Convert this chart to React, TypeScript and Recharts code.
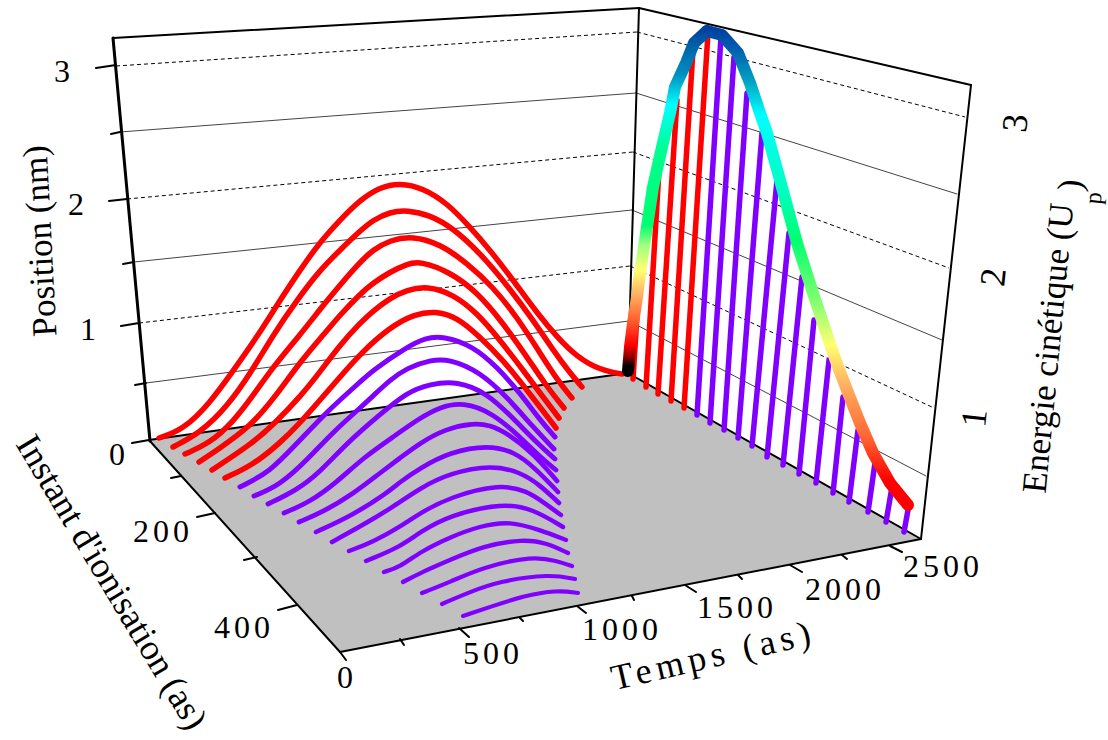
import { ComposedChart, Line, Area, XAxis, YAxis, ReferenceDot } from 'recharts';

type Pt = number[];

const red1: Pt[] = [[159,438],[183,430],[210,403],[233,371],[257,337],[277,305],[300,270],[320,242],[340,220],[360,200],[380,187],[400,183],[423,188],[447,203],[470,227],[490,250],[513,280],[537,313],[557,337],[577,357],[600,370],[622,374]];
const red2: Pt[] = [[173,447],[200,433],[227,407],[252,371],[273,335],[297,300],[320,270],[340,250],[360,231],[373,220],[390,212],[407,210],[430,215],[453,228],[480,253],[507,285],[533,320],[553,350],[570,373],[582,387]];
const red3: Pt[] = [[185,454],[210,443],[233,422],[252,397],[273,367],[300,335],[325,303],[340,285],[360,262],[373,250],[390,240],[413,236],[440,244],[467,263],[493,287],[517,317],[540,353],[558,381],[572,398]];
const red4: Pt[] = [[199,462],[217,450],[250,427],[275,397],[300,362],[325,333],[340,315],[360,294],[373,283],[390,272],[407,264],[420,261],[450,272],[477,292],[503,323],[527,357],[547,387],[564,408]];
const red5: Pt[] = [[212,470],[253,443],[275,423],[300,397],[320,372],[340,345],[360,323],[373,311],[390,298],[407,290],[427,286],[453,294],[477,313],[500,340],[523,370],[543,397],[559,418]];
const red6: Pt[] = [[225,478],[253,465],[280,443],[300,423],[320,400],[340,377],[360,354],[390,327],[415,314],[435,311],[457,317],[480,337],[503,360],[527,390],[556,428]];

const purple1: Pt[] = [[240,487],[270,472],[297,443],[327,412],[340,400],[360,382],[373,370],[407,347],[425,338],[443,336],[473,346],[497,367],[520,393],[540,420],[555,437]];
const purple2: Pt[] = [[254,496],[280,485],[307,460],[333,432],[360,408],[373,396],[390,380],[407,368],[430,360],[450,359],[480,372],[507,397],[533,427],[554,449]];
const purple3: Pt[] = [[268,504],[297,490],[320,472],[347,443],[377,417],[407,392],[430,384],[457,381],[487,393],[513,418],[537,443],[555,459]];
const purple4: Pt[] = [[284,513],[310,502],[337,482],[363,458],[393,437],[420,418],[440,407],[463,402],[493,413],[520,437],[540,457],[556,470]];
const purple5: Pt[] = [[299,522],[323,512],[353,494],[380,473],[400,458],[420,443],[445,429],[473,423],[490,425],[507,433],[533,453],[557,481]];
const purple6: Pt[] = [[316,532],[353,515],[387,493],[400,482],[420,468],[450,452],[488,445],[515,452],[535,468],[558,492]];
const purple7: Pt[] = [[332,542],[363,525],[393,507],[420,488],[450,473],[492,465],[520,472],[540,485],[559,503]];
const purple8: Pt[] = [[349,551],[373,542],[403,525],[420,513],[450,497],[500,484],[527,491],[543,502],[561,515]];
const purple9: Pt[] = [[366,561],[400,547],[420,532],[450,515],[503,503],[533,509],[563,527]];
const purple10: Pt[] = [[384,572],[400,567],[420,552],[450,537],[480,526],[510,521],[540,530],[566,540]];
const purple11: Pt[] = [[403,582],[420,573],[450,560],[483,546],[523,539],[547,543],[568,553]];
const purple12: Pt[] = [[422,593],[450,582],[483,567],[533,556],[557,561],[572,566]];
const purple13: Pt[] = [[442,604],[467,593],[500,581],[550,574],[575,579]];
const purple14: Pt[] = [[463,616],[490,607],[523,596],[557,590],[578,593]];

const redCurves = [red1, red2, red3, red4, red5, red6];
const purpleCurves = [purple1, purple2, purple3, purple4, purple5, purple6, purple7, purple8, purple9, purple10, purple11, purple12, purple13, purple14];

// energy stems on the right wall: floor end, then energy end
const redStems: Pt[][] = [[[633,379],[638,300]],[[646,387],[659,170]],[[658,394],[677,100]],[[671,401],[693,50]],[[684,408],[708,33]]];
const purpleStems: Pt[][] = [[[697,415],[721,37]],[[710,423],[734,57]],[[724,430],[747,93]],[[738,438],[762,133]],[[752,446],[777,180]],[[767,457],[789,233]],[[783,465],[802,277]],[[799,474],[814,320]],[[816,483],[829,360]],[[833,493],[843,397]],[[849,502],[858,430]],[[868,512],[875,463]],[[886,522],[892,487]],[[904,532],[908,510]]];

const energyRise: Pt[] = [[628,371],[630,347],[633,323],[637,297],[640,273],[645,240],[650,207],[653,187],[662,147],[670,113],[675,87],[686,63],[694,43],[707,31]];
const energyFall: Pt[] = [[707,31],[722,35],[738,53],[750,83],[760,113],[767,133],[780,180],[797,243],[813,293],[827,335],[837,364],[847,390],[860,423],[873,453],[890,483],[908,505]];

const riseStops: [number, string][] = [[28,'#003f9f'],[45,'#0060a8'],[75,'#0090c0'],[105,'#00ffff'],[150,'#00ff90'],[225,'#00ff70'],[245,'#a0ff80'],[270,'#ffff70'],[295,'#ffb060'],[320,'#ff6030'],[345,'#ff0000'],[358,'#800000'],[366,'#000000']];
const fallStops: [number, string][] = [[28,'#003f9f'],[50,'#0060b0'],[80,'#00a0c0'],[115,'#00ffff'],[190,'#00ffc0'],[240,'#00ff70'],[300,'#80ff70'],[345,'#ffff70'],[385,'#ffb060'],[440,'#ff6030'],[480,'#ff0000'],[510,'#ff0000']];

const floorX = [149, 340, 628, 921];
const floorBack = [440, 413, 373, 539];
const floorFront = [440, 652, 596, 539];

const frameEdges: Pt[][] = [[[113,38],[639,8]],[[639,8],[971,85]],[[639,8],[628,373]],[[971,85],[921,539]],[[149,440],[628,373]],[[628,373],[921,539]],[[149,440],[340,652]],[[340,652],[921,539]]];
const leftEdge: Pt[] = [[113,38],[150,441]];

const wallBack = [[637,32],[636,93],[633,152],[632,210],[630,266],[629,321]];
const wallLeft = [[116,66],[120,132],[127,199],[134,262],[139,323],[146,383]];
const wallRight = [[965,117],[957,194],[949,268],[942,340],[934,408],[926,476]];

const tickSegments: Pt[][] = [
  [[96,68],[116,65]],[[111,134],[120,132]],[[109,201],[127,199]],[[123,264],[134,262]],[[121,326],[139,323]],[[135,385],[146,383]],[[132,443],[149,440]],
  [[171,478],[181,476]],[[197,517],[215,513]],[[244,560],[257,557]],[[278,610],[297,605]],
  [[340,652],[346,660]],[[400,639],[404,645]],[[459,628],[469,637]],[[520,618],[523,621]],[[577,606],[586,613]],[[632,596],[634,600]],[[685,585],[696,592]],[[738,575],[742,579]],[[790,565],[802,572]],[[842,555],[847,559]],[[890,546],[902,552]],
];

type Label = { x: number; y: number; text: string; size: number; spacing?: number; angle?: number };
const labels: Label[] = [
  { x: 62, y: 82, text: '3', size: 32 },
  { x: 76, y: 215, text: '2', size: 32 },
  { x: 88, y: 340, text: '1', size: 32 },
  { x: 117, y: 465, text: '0', size: 32 },
  { x: 163, y: 542, text: '200', size: 32, spacing: 4 },
  { x: 244, y: 638, text: '400', size: 32, spacing: 4 },
  { x: 345, y: 688, text: '0', size: 32 },
  { x: 493, y: 664, text: '500', size: 32, spacing: 4 },
  { x: 622, y: 640, text: '1000', size: 32, spacing: 4 },
  { x: 737, y: 618, text: '1500', size: 32, spacing: 4 },
  { x: 845, y: 600, text: '2000', size: 32, spacing: 4 },
  { x: 943, y: 577, text: '2500', size: 32, spacing: 4 },
  { x: 1015, y: 123, text: '3', size: 36, angle: -84 },
  { x: 993, y: 277, text: '2', size: 36, angle: -84 },
  { x: 974, y: 418, text: '1', size: 36, angle: -84 },
  { x: 40, y: 241, text: 'Position (nm)', size: 35, angle: -93 },
  { x: 713, y: 655, text: 'Temps (as)', size: 36, spacing: 5, angle: -13 },
  { x: 112, y: 582, text: "Instant d'ionisation (as)", size: 36, angle: 59 },
  { x: 1048, y: 348, text: 'Energie cinétique (U', size: 35, angle: -84.5 },
  { x: 1070, y: 185, text: ')', size: 35, angle: -84.5 },
  { x: 1093, y: 198, text: 'p', size: 24, angle: -84.5 },
];

const rows = (pts: number[][]) => pts.map(([x, y]) => ({ x, y }));
const floorRows = floorX.map((x, i) => ({ x, band: [floorBack[i], floorFront[i]] }));

function Plain({ pts, color, width, dash, type = 'linear' }: { pts: number[][]; color: string; width: number; dash?: string; type?: 'linear' | 'basis' }) {
  return (
    <Line
      data={rows(pts)}
      dataKey="y"
      type={type}
      stroke={color}
      strokeWidth={width}
      strokeDasharray={dash}
      strokeLinecap={dash ? 'butt' : 'round'}
      strokeLinejoin="round"
      dot={false}
      activeDot={false}
      legendType="none"
      isAnimationActive={false}
    />
  );
}

export default function App() {
  const walls = wallBack.flatMap((b, i) => [
    { pts: [wallLeft[i], b], dashed: i % 2 === 0 },
    { pts: [b, wallRight[i]], dashed: i % 2 === 0 },
  ]);
  return (
    <div style={{ position: 'absolute', left: 0, top: 0, width: 1108, height: 740, background: '#fff' }}>
      <ComposedChart width={1108} height={740} margin={{ top: 0, right: 0, bottom: 0, left: 0 }}>
        <defs>
          <linearGradient id="rise" gradientUnits="userSpaceOnUse" x1="0" y1="28" x2="0" y2="371">
            {riseStops.map(([y, c]) => <stop key={y} offset={(y - 28) / 343} stopColor={c} />)}
          </linearGradient>
          <linearGradient id="fall" gradientUnits="userSpaceOnUse" x1="0" y1="28" x2="0" y2="510">
            {fallStops.map(([y, c]) => <stop key={y} offset={(y - 28) / 482} stopColor={c} />)}
          </linearGradient>
        </defs>
        <XAxis hide type="number" dataKey="x" domain={[0, 1108]} allowDataOverflow />
        <YAxis hide type="number" domain={[0, 740]} reversed allowDataOverflow />
        <Area data={floorRows} dataKey="band" type="linear" stroke="none" fill="#c0c0c0" fillOpacity={1} dot={false} activeDot={false} legendType="none" isAnimationActive={false} />
        {walls.map((w, i) => (
          <Plain key={`wall${i}`} pts={w.pts} color={w.dashed ? '#000' : '#444'} width={1} dash={w.dashed ? '4 3' : undefined} />
        ))}
        {frameEdges.map((e, i) => <Plain key={`edge${i}`} pts={e} color="#000" width={2} />)}
        <Plain pts={leftEdge} color="#000" width={3} />
        {tickSegments.map((t, i) => <Plain key={`tick${i}`} pts={t} color="#000" width={2} />)}
        {redStems.map((s, i) => <Plain key={`rs${i}`} pts={s} color="#ff0000" width={5.5} />)}
        {purpleStems.map((s, i) => <Plain key={`ps${i}`} pts={s} color="#7f00ff" width={5.5} />)}
        {redCurves.map((c, i) => <Plain key={`r${i}`} pts={c} color="#ff0000" width={5.5} type="basis" />)}
        {purpleCurves.map((c, i) => <Plain key={`p${i}`} pts={c} color="#7f00ff" width={5 - i * 0.07} type="basis" />)}
        <Plain pts={energyFall} color="url(#fall)" width={12} />
        <Plain pts={energyRise} color="url(#rise)" width={12} />
        {labels.map((l, i) => (
          <ReferenceDot
            key={`label${i}`}
            x={l.x}
            y={l.y}
            r={0}
            ifOverflow="visible"
            shape={(p: { cx: number; cy: number }) => (
              <text
                x={p.cx}
                y={p.cy}
                textAnchor="middle"
                fontFamily="'Liberation Serif'"
                fontSize={l.size}
                letterSpacing={l.spacing}
                dominantBaseline={l.angle === undefined ? undefined : 'central'}
                transform={l.angle === undefined ? undefined : `rotate(${l.angle} ${p.cx} ${p.cy})`}
                fill="#000"
              >
                {l.text}
              </text>
            )}
          />
        ))}
      </ComposedChart>
    </div>
  );
}
